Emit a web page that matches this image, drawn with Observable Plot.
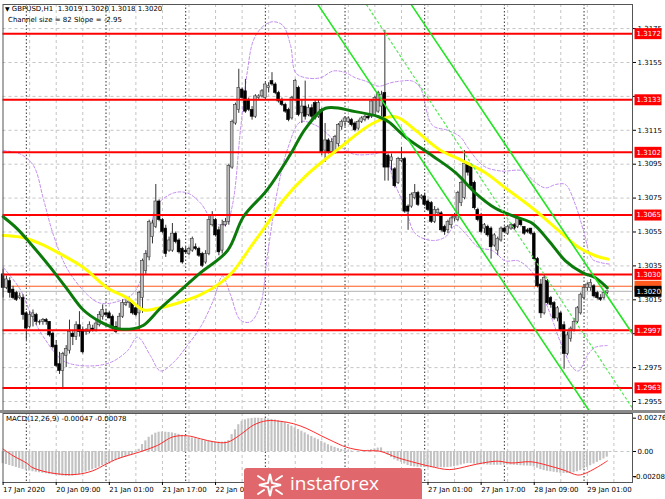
<!DOCTYPE html>
<html><head><meta charset="utf-8">
<script src="https://cdn.jsdelivr.net/npm/d3@7"></script>
<script src="https://cdn.jsdelivr.net/npm/@observablehq/plot@0.6"></script>
<style>
body{margin:0;background:#fff;}
#wrap{position:relative;width:665px;height:499px;overflow:hidden;background:#fff;font-family:"DejaVu Sans",sans-serif;}
#wrap svg{position:absolute;left:0;}
.t{position:absolute;font-size:7px;line-height:8px;color:#000;white-space:pre;}
</style></head><body><div id="wrap"></div>
<script>
// ---- price data (GBPUSD H1, bars from 17 Jan 17:00 to 29 Jan 07:00) ----
const O = [1.3030,1.3022,1.3026,1.3021,1.3019,1.3016,1.3016,1.3007,1.2999,1.3005,
1.3006,1.3002,1.3002,1.3003,1.3002,1.2995,1.2988,1.2977,1.2973,1.2982,
1.2985,1.2995,1.2993,1.3000,1.2997,1.2996,1.2996,1.2998,1.2997,1.3000,
1.3005,1.3007,1.3007,1.3005,1.2999,1.2998,1.3005,1.3012,1.3013,1.3013,
1.3010,1.3007,1.3016,1.3032,1.3040,1.3052,1.3058,1.3073,1.3062,1.3057,
1.3044,1.3044,1.3054,1.3050,1.3045,1.3044,1.3042,1.3044,1.3046,1.3045,
1.3042,1.3037,1.3042,1.3059,1.3062,1.3056,1.3044,1.3059,1.3061,1.3093,
1.3119,1.3127,1.3139,1.3138,1.3133,1.3127,1.3123,1.3134,1.3135,1.3134,
1.3140,1.3144,1.3142,1.3137,1.3133,1.3130,1.3127,1.3122,1.3133,1.3140,
1.3125,1.3129,1.3124,1.3128,1.3131,1.3123,1.3127,1.3103,1.3109,1.3102,
1.3102,1.3107,1.3117,1.3120,1.3120,1.3121,1.3119,1.3116,1.3120,1.3121,
1.3123,1.3123,1.3124,1.3126,1.3129,1.3137,1.3100,1.3097,1.3092,1.3084,
1.3097,1.3098,1.3070,1.3070,1.3075,1.3078,1.3075,1.3076,1.3073,1.3072,
1.3061,1.3066,1.3066,1.3058,1.3056,1.3059,1.3063,1.3062,1.3072,1.3075,
1.3095,1.3094,1.3084,1.3068,1.3065,1.3057,1.3058,1.3057,1.3047,1.3044,
1.3050,1.3057,1.3054,1.3057,1.3059,1.3058,1.3062,1.3058,1.3056,1.3057,
1.3054,1.3039,1.3024,1.3007,1.3026,1.3016,1.3013,1.3004,1.3007,1.3000,
1.2983,1.2992,1.2997,1.3002,1.3007,1.3016,1.3022,1.3022,1.3023,1.3019,
1.3016,1.3016,1.3019];
const H = [1.3033,1.3029,1.3028,1.3023,1.3020,1.3019,1.3018,1.3008,1.3008,1.3009,
1.3007,1.3003,1.3004,1.3004,1.3002,1.2996,1.2991,1.2984,1.2984,1.2988,
1.3003,1.2997,1.3002,1.3008,1.2999,1.2998,1.3002,1.3000,1.3003,1.3008,
1.3012,1.3009,1.3008,1.3006,1.3002,1.3007,1.3015,1.3015,1.3016,1.3014,
1.3012,1.3020,1.3039,1.3044,1.3062,1.3062,1.3083,1.3074,1.3063,1.3059,
1.3052,1.3060,1.3055,1.3051,1.3046,1.3046,1.3046,1.3052,1.3048,1.3046,
1.3043,1.3044,1.3064,1.3067,1.3063,1.3058,1.3062,1.3063,1.3095,1.3121,
1.3131,1.3151,1.3140,1.3145,1.3134,1.3129,1.3136,1.3136,1.3139,1.3143,
1.3143,1.3149,1.3143,1.3138,1.3134,1.3131,1.3128,1.3135,1.3145,1.3141,
1.3133,1.3144,1.3130,1.3130,1.3133,1.3133,1.3128,1.3119,1.3110,1.3110,
1.3112,1.3119,1.3121,1.3123,1.3123,1.3122,1.3120,1.3121,1.3123,1.3124,
1.3124,1.3133,1.3135,1.3138,1.3138,1.3174,1.3101,1.3101,1.3093,1.3099,
1.3105,1.3099,1.3071,1.3078,1.3083,1.3079,1.3077,1.3078,1.3074,1.3073,
1.3070,1.3069,1.3067,1.3059,1.3062,1.3064,1.3066,1.3079,1.3085,1.3103,
1.3096,1.3095,1.3085,1.3069,1.3066,1.3060,1.3059,1.3058,1.3054,1.3052,
1.3058,1.3058,1.3059,1.3060,1.3060,1.3064,1.3063,1.3058,1.3057,1.3057,
1.3055,1.3040,1.3027,1.3030,1.3027,1.3017,1.3014,1.3011,1.3008,1.3002,
1.2996,1.2999,1.3004,1.3011,1.3019,1.3024,1.3025,1.3027,1.3024,1.3020,
1.3018,1.3020,1.3020];
const L = [1.3016,1.3021,1.3016,1.3015,1.3014,1.3015,1.3003,1.2991,1.2998,1.2999,
1.3000,1.3000,1.3000,1.3000,1.2993,1.2986,1.2975,1.2971,1.2962,1.2975,
1.2983,1.2988,1.2991,1.2993,1.2983,1.2994,1.2995,1.2996,1.2996,1.2999,
1.3003,1.3005,1.3004,1.2997,1.2995,1.2997,1.3004,1.3011,1.3010,1.3006,
1.3005,1.2997,1.3007,1.3030,1.3038,1.3048,1.3057,1.3061,1.3054,1.3040,
1.3043,1.3043,1.3048,1.3042,1.3036,1.3042,1.3041,1.3043,1.3044,1.3040,
1.3034,1.3036,1.3041,1.3058,1.3052,1.3041,1.3042,1.3058,1.3059,1.3092,
1.3118,1.3125,1.3133,1.3125,1.3126,1.3121,1.3122,1.3133,1.3134,1.3133,
1.3137,1.3141,1.3136,1.3131,1.3129,1.3125,1.3120,1.3121,1.3132,1.3123,
1.3119,1.3121,1.3123,1.3121,1.3121,1.3122,1.3100,1.3096,1.3101,1.3101,
1.3101,1.3105,1.3115,1.3117,1.3119,1.3117,1.3114,1.3115,1.3119,1.3120,
1.3121,1.3122,1.3123,1.3125,1.3123,1.3085,1.3085,1.3091,1.3081,1.3083,
1.3096,1.3066,1.3056,1.3069,1.3074,1.3070,1.3074,1.3070,1.3067,1.3060,
1.3060,1.3064,1.3055,1.3053,1.3054,1.3057,1.3061,1.3061,1.3070,1.3074,
1.3088,1.3081,1.3068,1.3061,1.3054,1.3054,1.3052,1.3039,1.3046,1.3041,
1.3049,1.3054,1.3053,1.3056,1.3056,1.3057,1.3058,1.3053,1.3054,1.3053,
1.3038,1.3022,1.3004,1.3006,1.3012,1.3010,1.3003,1.3002,1.2996,1.2974,
1.2982,1.2990,1.2996,1.3001,1.3006,1.3015,1.3020,1.3020,1.3016,1.3015,
1.3014,1.3015,1.3018];
const C = [1.3022,1.3027,1.3019,1.3016,1.3015,1.3017,1.3006,1.2998,1.3006,1.3007,
1.3002,1.3002,1.3003,1.3002,1.2994,1.2987,1.2976,1.2973,1.2983,1.2986,
1.2996,1.2993,1.3000,1.2996,1.2984,1.2997,1.3000,1.2997,1.3001,1.3006,
1.3009,1.3006,1.3004,1.2998,1.2996,1.3005,1.3013,1.3013,1.3014,1.3007,
1.3006,1.3019,1.3038,1.3042,1.3061,1.3060,1.3073,1.3062,1.3055,1.3042,
1.3050,1.3054,1.3049,1.3043,1.3037,1.3043,1.3045,1.3051,1.3045,1.3041,
1.3035,1.3042,1.3062,1.3065,1.3053,1.3043,1.3059,1.3061,1.3094,1.3120,
1.3130,1.3140,1.3134,1.3126,1.3127,1.3123,1.3135,1.3135,1.3138,1.3142,
1.3141,1.3142,1.3137,1.3132,1.3130,1.3126,1.3121,1.3134,1.3144,1.3124,
1.3129,1.3123,1.3128,1.3123,1.3122,1.3131,1.3102,1.3109,1.3102,1.3108,
1.3111,1.3118,1.3120,1.3122,1.3122,1.3118,1.3115,1.3120,1.3122,1.3123,
1.3122,1.3132,1.3134,1.3137,1.3136,1.3093,1.3093,1.3099,1.3082,1.3098,
1.3098,1.3067,1.3067,1.3077,1.3078,1.3071,1.3076,1.3071,1.3068,1.3061,
1.3068,1.3068,1.3056,1.3055,1.3061,1.3063,1.3064,1.3078,1.3084,1.3095,
1.3090,1.3082,1.3069,1.3062,1.3055,1.3059,1.3053,1.3046,1.3053,1.3051,
1.3057,1.3055,1.3058,1.3059,1.3057,1.3063,1.3059,1.3054,1.3055,1.3054,
1.3039,1.3023,1.3007,1.3028,1.3013,1.3012,1.3004,1.3010,1.2997,1.2983,
1.2994,1.2998,1.3002,1.3010,1.3018,1.3022,1.3024,1.3025,1.3017,1.3016,
1.3015,1.3019,1.3020];

// moving averages and bands [bar, price]
const greenMA = [[0,1.3064],[4.2,1.3057],[9.2,1.3046],[14.3,1.3034],[19.4,1.3021],[24.2,1.3009],[29.3,1.3002],[34.5,1.2998],[39.3,1.2998],[42.3,1.3000],[47.4,1.3010],[54.3,1.3022],[59.5,1.3031],[67.6,1.3044],[72.4,1.3064],[79.6,1.3080],[86.6,1.3101],[91.1,1.3116],[97.1,1.3128],[106.1,1.3126],[113.1,1.3123],[116.1,1.3120],[121.2,1.3111],[129.3,1.3100],[136.3,1.3090],[142.3,1.3078],[148.3,1.3069],[154.3,1.3064],[159.5,1.3060],[164.3,1.3050],[169.4,1.3038],[174.5,1.3031],[178.4,1.3028],[182,1.3022]];
const yellowMA = [[0,1.3053],[5.2,1.3052],[11.3,1.3048],[17.3,1.3042],[24.2,1.3034],[31.4,1.3022],[37.5,1.3016],[42.3,1.3009],[46.5,1.3010],[52.5,1.3013],[59.5,1.3018],[65.5,1.3025],[69.4,1.3032],[74.5,1.3046],[79.6,1.3060],[84.5,1.3074],[91.1,1.3088],[101,1.3104],[111.3,1.3119],[118.2,1.3123],[124.2,1.3115],[131.1,1.3104],[138.4,1.3097],[145.3,1.3090],[151.3,1.3081],[159.5,1.3069],[167.3,1.3056],[173.3,1.3046],[178.4,1.3041],[182.3,1.3039]];
const upperBand = [[0.1,1.3103],[5.2,1.3101],[9.2,1.3094],[12.2,1.3074],[15.2,1.3053],[19.4,1.3033],[25.4,1.3018],[29.3,1.3013],[34.5,1.3014],[39.3,1.3019],[42.3,1.3032],[44.4,1.3056],[46.5,1.3071],[51.3,1.3078],[55.5,1.3078],[59.5,1.3072],[63.4,1.3061],[67,1.3059],[69.1,1.3071],[71.5,1.3115],[73.6,1.3150],[75.4,1.3168],[78.1,1.3176],[81.1,1.3179],[84.2,1.3177],[86.6,1.3165],[88.1,1.3149],[91.1,1.3146],[95.6,1.3146],[99.5,1.3150],[103.1,1.3149],[106.1,1.3146],[109.2,1.3144],[113.1,1.3141],[116.7,1.3143],[119.7,1.3144],[123.3,1.3144],[125.7,1.3140],[129.3,1.3118],[133.9,1.3115],[137.8,1.3111],[139.9,1.3105],[144.7,1.3094],[149.8,1.3091],[156.7,1.3091],[159.8,1.3085],[163.4,1.3081],[166.4,1.3083],[169.4,1.3083],[172.4,1.3071],[174.8,1.3056],[177.5,1.3039],[179.9,1.3037],[182.9,1.3036]];
const lowerBand = [[0.1,1.3034],[5.2,1.3021],[8.3,1.3007],[12.2,1.2993],[18.2,1.2979],[25.4,1.2976],[32.3,1.2978],[37.5,1.2985],[40.5,1.2993],[44.4,1.2982],[47.4,1.2973],[51.3,1.2978],[55.5,1.2988],[59.5,1.2999],[63.4,1.3015],[66.1,1.3029],[68.5,1.3018],[71.5,1.3003],[74.5,1.3002],[77.5,1.3012],[79.6,1.3041],[82.7,1.3080],[85.7,1.3104],[89.6,1.3120],[94.1,1.3118],[97.1,1.3114],[100.7,1.3107],[105.5,1.3101],[111.6,1.3101],[115.2,1.3102],[117.3,1.3087],[121.2,1.3069],[124.2,1.3054],[129.3,1.3050],[133.2,1.3052],[136.3,1.3059],[139.3,1.3054],[143.2,1.3046],[147.4,1.3044],[151.3,1.3038],[155.2,1.3038],[159.5,1.3031],[161.9,1.3021],[165.5,1.3003],[167.3,1.2993],[169.4,1.2983],[171.5,1.2975],[173.3,1.2973],[176.3,1.2983],[178.4,1.2987],[182,1.2988]];
// regression channel: two solid borders and a dotted middle, [bar, price]
const chanLower = [[94.9,1.3189],[176.4,1.2950]];
const chanUpper = [[123.0,1.3189],[189.6,1.2995]];
const chanMid = [[109.5,1.3189],[189.6,1.2951]];

// levels, grid and tick labels
const gridPrices = [1.3175,1.3155,1.3135,1.3115,1.3095,1.3075,1.3055,1.3035,1.3015,1.2995,1.2975,1.2955];
const priceLabels = [1.3175,1.3155,1.3115,1.3095,1.3075,1.3055,1.3035,1.3015,1.2975,1.2955];
const levels = [1.3172,1.3133,1.3102,1.3065,1.3030,1.2997,1.2963];
const orangeLevel = [1.3023];
const lastPrice = [1.3020];
const gridBars = [8,16,24,32,40,48,56,64,72,80,88,96,104,112,120,128,136,144,152,160,168,176,184];
const daySepBars = [7,31,55,79,103,127,151,175];
const labelBars = [0,16,32,48,64,128,144,160,176];
const labelText = ["17 Jan 2020","20 Jan 09:00","21 Jan 01:00","21 Jan 17:00","22 Jan 09:00","27 Jan 01:00","27 Jan 17:00","28 Jan 09:00","29 Jan 01:00"];

// MACD(12,26,9)
const macdHist = [-0.00100,-0.00108,-0.00116,-0.00124,-0.00132,-0.00140,-0.00148,-0.00155,-0.00162,-0.00168,
-0.00172,-0.00176,-0.00180,-0.00184,-0.00188,-0.00192,-0.00196,-0.00200,-0.00204,-0.00206,
-0.00206,-0.00204,-0.00200,-0.00192,-0.00180,-0.00170,-0.00162,-0.00152,-0.00142,-0.00130,
-0.00118,-0.00106,-0.00094,-0.00084,-0.00074,-0.00064,-0.00054,-0.00044,-0.00034,-0.00024,
-0.00012,0.00018,0.00058,0.00088,0.00118,0.00136,0.00152,0.00160,0.00162,0.00160,
0.00158,0.00154,0.00148,0.00142,0.00134,0.00126,0.00118,0.00112,0.00106,0.00100,
0.00094,0.00088,0.00084,0.00082,0.00080,0.00078,0.00078,0.00080,0.00090,0.00140,
0.00180,0.00222,0.00248,0.00262,0.00270,0.00274,0.00276,0.00276,0.00274,0.00272,
0.00270,0.00266,0.00262,0.00256,0.00250,0.00238,0.00224,0.00210,0.00196,0.00182,
0.00168,0.00154,0.00138,0.00124,0.00110,0.00098,0.00084,0.00070,0.00056,0.00044,
0.00034,0.00024,0.00016,0.00010,0.00006,0.00004,0.00002,0.00002,0.00004,0.00006,
0.00010,0.00016,0.00022,0.00028,0.00030,-0.00010,-0.00030,-0.00050,-0.00068,-0.00080,
-0.00090,-0.00104,-0.00116,-0.00124,-0.00128,-0.00130,-0.00132,-0.00132,-0.00132,-0.00134,
-0.00134,-0.00134,-0.00134,-0.00134,-0.00132,-0.00130,-0.00126,-0.00120,-0.00112,-0.00104,
-0.00100,-0.00100,-0.00104,-0.00108,-0.00110,-0.00110,-0.00112,-0.00114,-0.00114,-0.00114,
-0.00114,-0.00112,-0.00112,-0.00112,-0.00114,-0.00116,-0.00118,-0.00120,-0.00120,-0.00122,
-0.00128,-0.00138,-0.00150,-0.00158,-0.00164,-0.00168,-0.00172,-0.00176,-0.00180,-0.00182,
-0.00182,-0.00180,-0.00176,-0.00168,-0.00158,-0.00146,-0.00132,-0.00118,-0.00104,-0.00090,
-0.00076,-0.00062,-0.00047];
const macdSignal = [[0,0.00020],[3,-0.00035],[7,-0.00095],[9,-0.00135],[15,-0.00180],[22,-0.00190],[27,-0.00160],[31,-0.00105],[34.5,-0.00060],[41,-0.00005],[46.5,0.00050],[51,0.00120],[55.5,0.00130],[59.5,0.00105],[63.5,0.00080],[67.5,0.00076],[71.5,0.00140],[75.5,0.00220],[79.5,0.00255],[83.5,0.00250],[87.5,0.00230],[91.5,0.00190],[95.5,0.00135],[98.5,0.00095],[103.5,0.00035],[108.5,0.00008],[113.5,0.00002],[118.5,-0.00048],[124.5,-0.00095],[128.5,-0.00122],[134.5,-0.00150],[140.5,-0.00118],[144.5,-0.00095],[149,-0.00080],[153,-0.00095],[159,-0.00085],[164,-0.00115],[169,-0.00155],[173,-0.00195],[175,-0.00185],[179,-0.00130],[182,-0.00078]];
const macdTicks = [0.00276,0,-0.00208];
const macdTickText = ["0.00276","0.00","-0.00208"];

// ---- build ----
const bars = O.map((o,i)=>({i,o,h:H[i],l:L[i],c:C[i]}));
const ups = bars.filter(d=>d.c>d.o), downs = bars.filter(d=>d.c<d.o), dojis = bars.filter(d=>d.c===d.o);
const xDomain = [-0.03,189.6];
const fmt4 = d=>d.toFixed(4);
const boxSym = {draw(ctx){ctx.moveTo(-13.5,-5.5);ctx.lineTo(13.5,-5.5);ctx.lineTo(13.5,5.5);ctx.lineTo(-13.5,5.5);ctx.closePath();}};
const style = {fontFamily:"DejaVu Sans",fontSize:"7px",background:"transparent",color:"#000"};
const P = d=>d[0], V = d=>d[1];
const grid = {stroke:"#c4c4c4",strokeDasharray:"3,3",strokeWidth:1};
const sep = {stroke:"#333",strokeDasharray:"1.5,2",strokeWidth:1};
const tagText = (data, fill, dx) => Plot.text(data,{y:d=>d,frameAnchor:"right",dx,textAnchor:"start",text:fmt4,fill});

const main = Plot.plot({
  width:665,height:411,marginTop:4,marginBottom:1,marginLeft:2.5,marginRight:33,
  x:{domain:xDomain,axis:null},
  y:{domain:[1.29497,1.31892],axis:null},
  style,
  marks:[
    Plot.ruleY(gridPrices,grid),
    Plot.ruleX(gridBars,grid),
    Plot.ruleX(daySepBars,sep),
    Plot.line(upperBand,{x:P,y:V,stroke:"#c38cf0",strokeDasharray:"3,2",strokeWidth:1,curve:"catmull-rom"}),
    Plot.line(lowerBand,{x:P,y:V,stroke:"#c38cf0",strokeDasharray:"3,2",strokeWidth:1,curve:"catmull-rom"}),
    Plot.ruleY(lastPrice,{stroke:"#b4b4b4"}),
    Plot.ruleY(orangeLevel,{stroke:"#ff5a1e"}),
    Plot.ruleX(bars,{x:"i",y1:"l",y2:"h",stroke:"#333",strokeWidth:1}),
    Plot.rect(ups,{x1:d=>d.i-0.42,x2:d=>d.i+0.42,y1:"o",y2:"c",fill:"#bcbcbc",stroke:"#3a3a3a",strokeWidth:0.6}),
    Plot.rect(downs,{x1:d=>d.i-0.42,x2:d=>d.i+0.42,y1:"o",y2:"c",fill:"#000",stroke:"#000",strokeWidth:0.6}),
    Plot.ruleY(dojis,{x1:d=>d.i-0.45,x2:d=>d.i+0.45,y:"c",stroke:"#000"}),
    Plot.ruleY(levels,{stroke:"#ff0000",strokeWidth:2}),
    Plot.line(yellowMA,{x:P,y:V,stroke:"#ffff00",strokeWidth:3,curve:"catmull-rom"}),
    Plot.line(greenMA,{x:P,y:V,stroke:"#0b7a0b",strokeWidth:3,curve:"catmull-rom"}),
    Plot.line(chanLower,{x:P,y:V,stroke:"#22e622",strokeWidth:1.6,clip:true}),
    Plot.line(chanUpper,{x:P,y:V,stroke:"#22e622",strokeWidth:1.6,clip:true}),
    Plot.line(chanMid,{x:P,y:V,stroke:"#55e855",strokeWidth:1.2,strokeDasharray:"2,3",clip:true}),
    Plot.frame({stroke:"#555"}),
    Plot.axisY({anchor:"right",ticks:gridPrices,tickFormat:()=>"",tickSize:3}),
    Plot.text(priceLabels,{y:d=>d,frameAnchor:"right",dx:5,textAnchor:"start",text:fmt4,fill:"#000"}),
    Plot.dot(levels,{y:d=>d,frameAnchor:"right",dx:15.5,symbol:boxSym,r:5,fill:"#ff0000",stroke:"none"}),
    tagText(levels,"#fff",4),
    Plot.dot(orangeLevel,{y:d=>d,frameAnchor:"right",dx:15.5,symbol:boxSym,r:5,fill:"#ff5a1e",stroke:"none"}),
    Plot.dot(lastPrice,{y:d=>d,frameAnchor:"right",dx:15.5,symbol:boxSym,r:5,fill:"#000",stroke:"none"}),
    tagText(lastPrice,"#fff",4)
  ]
});
main.style.top = "0px";

const macd = Plot.plot({
  width:665,height:89,marginTop:3,marginBottom:17,marginLeft:2.5,marginRight:33,
  x:{domain:xDomain,axis:null},
  y:{domain:[-0.002568,0.003148],axis:null},
  style,
  marks:[
    Plot.ruleX(gridBars,grid),
    Plot.ruleX(daySepBars,sep),
    Plot.ruleY([0],grid),
    Plot.rect(macdHist,{x1:(d,i)=>i-0.32,x2:(d,i)=>i+0.32,y1:0,y2:d=>d,fill:"#c2c2c2"}),
    Plot.line(macdSignal,{x:P,y:V,stroke:"#ff2a2a",strokeWidth:1,curve:"catmull-rom"}),
    Plot.frame({stroke:"#555"}),
    Plot.axisY({anchor:"right",ticks:macdTicks,tickFormat:()=>"",tickSize:3}),
    Plot.text(macdTicks,{y:d=>d,frameAnchor:"right",dx:5,textAnchor:"start",text:(d,i)=>macdTickText[i],fill:"#000",filter:d=>d>=0}),
    Plot.text(macdTicks,{y:d=>d,frameAnchor:"right",dx:1,textAnchor:"start",text:(d,i)=>macdTickText[i],fill:"#000",filter:d=>d<0}),
    Plot.axisX({anchor:"bottom",ticks:labelBars,tickFormat:d=>labelText[labelBars.indexOf(d)],tickSize:3,tickPadding:2,textAnchor:"start",fill:"#000"})
  ]
});
macd.style.top = "410px";

const wrap = document.getElementById("wrap");
wrap.appendChild(main);
wrap.appendChild(macd);
const addDiv = (html, cls, css) => { const d=document.createElement("div"); if(cls) d.className=cls; d.style.cssText=css; d.innerHTML=html; wrap.appendChild(d); return d; };
addDiv("","", "position:absolute;left:0;top:410px;width:665px;height:3px;background:#8a8a8a;");
addDiv("<span style='font-size:6px'>&#9660;</span> GBPUSD,H1  1.3019 1.3020 1.3018 1.3020","t","left:5px;top:5px;");
addDiv("Channel size = 82 Slope = -2.95","t","left:8px;top:16px;");
addDiv("MACD(12,26,9) -0.00047 -0.00078","t","left:6px;top:415px;");
const logo = addDiv(`<svg width="40" height="30" style="position:absolute;left:6px;top:2px" viewBox="0 0 40 30"><g stroke="#fff" stroke-width="2" fill="none" stroke-linecap="round"><path d="M20 4 L22 13 L31 15 L22 17 L20 26 L18 17 L9 15 L18 13 Z"/><path d="M8 6 L14 10 M32 6 L26 10 M8 24 L14 20 M32 24 L26 20"/></g></svg><span>instaforex</span>`,"", "position:absolute;left:244px;top:468px;width:178px;height:31px;background:#e0686c;border-radius:3px 3px 0 0;");
logo.querySelector("span").style.cssText = "position:absolute;left:46px;top:2px;font-family:'Open Sans',sans-serif;font-size:19px;color:#fff;";
</script></body></html>
